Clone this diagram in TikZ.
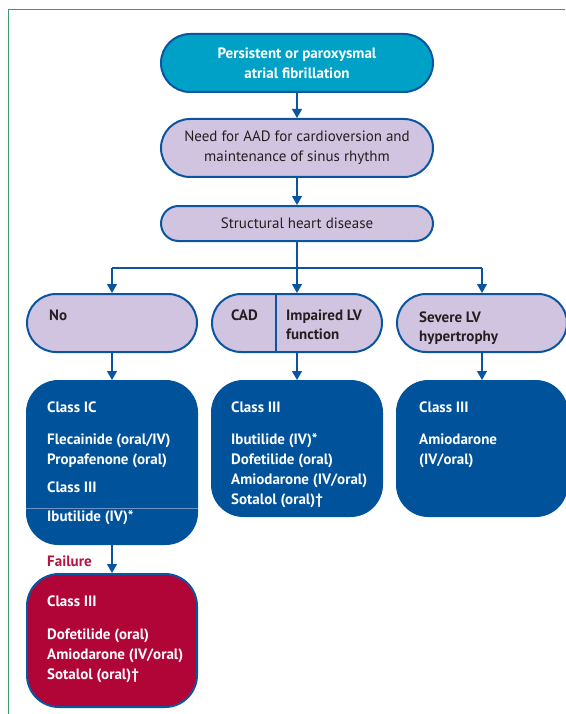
\documentclass[tikz,border=0pt]{standalone}
\usepackage{fontspec}
\setmainfont{PT Sans}
\usetikzlibrary{arrows.meta}
\definecolor{bdr}{HTML}{0A55A0}
\definecolor{cyanf}{HTML}{00A1C6}
\definecolor{lav}{HTML}{D1C4E0}
\definecolor{dblue}{HTML}{00529B}
\definecolor{redf}{HTML}{B10538}
\definecolor{failc}{HTML}{B5123E}
\definecolor{txt}{HTML}{231F20}
\definecolor{frame}{HTML}{3A9A6A}
\definecolor{thinl}{HTML}{6F93C4}
\tikzset{
  pill/.style={draw=bdr, line width=2pt, inner sep=0pt},
  lavbox/.style={pill, fill=lav, minimum width=170pt, minimum height=58pt, rounded corners=29pt},
  topbox/.style={pill, minimum width=272pt},
  bluebox/.style={draw=dblue, fill=dblue, line width=1pt, inner sep=0pt, minimum width=171pt, rounded corners=32pt},
  arr/.style={draw=bdr, line width=1.3pt, -{Triangle[width=10pt,length=9pt]}},
  conn/.style={draw=bdr, line width=1.3pt},
  wtxt/.style={text=white, font=\fontsize{15}{20}\selectfont\bfseries, inner sep=0pt, anchor=base west},
  dtxt/.style={text=txt, font=\fontsize{15}{20}\selectfont\bfseries, inner sep=0pt, anchor=base west},
}
\begin{document}
\begin{tikzpicture}[x=1pt,y=-1pt]
\useasboundingbox (0,0) rectangle (565,714);
% frame
\draw[frame, line width=1pt] (8.5,714) -- (8.5,9.5) -- (565,9.5);
% top boxes
\node[topbox, fill=cyanf, minimum height=58pt, rounded corners=29pt, text=white, align=center,
      font=\fontsize{15}{20}\selectfont\bfseries] (top) at (297,63) {Persistent or paroxysmal\\atrial fibrillation};
\node[topbox, fill=lav, minimum height=58pt, rounded corners=29pt, text=txt, align=center,
      font=\fontsize{15}{20}\selectfont] (need) at (297,148) {Need for AAD for cardioversion and\\maintenance of sinus rhythm};
\node[topbox, fill=lav, minimum height=35pt, rounded corners=17.5pt, text=txt,
      font=\fontsize{15}{20}\selectfont] (shd) at (297,223.5) {Structural heart disease};
% second row
\node[lavbox] (no) at (112,323) {};
\node[lavbox] (mid) at (297,323) {};
\node[lavbox] (sev) at (482,323) {};
\coordinate (dv) at (276,323);
\draw[conn] (dv |- mid.north) -- (dv |- mid.south);
\node[dtxt] (tno) at (49,320) {No};
\node[dtxt] (tcad) at (231,320) {CAD};
\node[dtxt] (timp1) at (286,320) {Impaired LV};
\node[dtxt] (timp2) at (286,339) {function};
\node[dtxt] (tsev1) at (419,322) {Severe LV};
\node[dtxt] (tsev2) at (419,341) {hypertrophy};
% blue boxes
\node[bluebox, minimum height=164pt] (c1) at (112,462.5) {};
\node[bluebox, minimum height=136pt] (c2) at (297,448.5) {};
\node[bluebox, minimum height=136pt] (c3) at (482,448.5) {};
\coordinate (sep) at (112,508);
\draw[thinl, line width=0.8pt] (sep -| c1.west) -- (sep -| c1.east);
\node[wtxt] (a1) at (47,412) {Class IC};
\node[wtxt] (a2) at (47,444) {Flecainide (oral/IV)};
\node[wtxt] (a3) at (47,464) {Propafenone (oral)};
\node[wtxt] (a4) at (47,492) {Class III};
\node[wtxt] (a5) at (47,521) {Ibutilide (IV)*};
\node[wtxt] (b1) at (231,412) {Class III};
\node[wtxt] (b2) at (231,444) {Ibutilide (IV)*};
\node[wtxt] (b3) at (231,464) {Dofetilide (oral)};
\node[wtxt] (b4) at (231,484) {Amiodarone (IV/oral)};
\node[wtxt] (b5) at (231,504) {Sotalol (oral)†};
\node[wtxt] (d1) at (419,412) {Class III};
\node[wtxt] (d2) at (419,444) {Amiodarone};
\node[wtxt] (d3) at (419,464) {(IV/oral)};
% red box
\node[pill, fill=redf, minimum width=170pt, minimum height=133pt, rounded corners=32pt] (red) at (112,640.5) {};
\node[wtxt] (e1) at (47,606) {Class III};
\node[wtxt] (e2) at (47,639) {Dofetilide (oral)};
\node[wtxt] (e3) at (47,659) {Amiodarone (IV/oral)};
\node[wtxt] (e4) at (47,679) {Sotalol (oral)†};
\node[text=failc, font=\fontsize{15}{20}\selectfont\bfseries, inner sep=0pt, anchor=base west] (fail) at (47,566) {Failure};
% connectors
\coordinate (j) at (297,268);
\coordinate (jl) at (112,268);
\coordinate (jr) at (482,268);
\draw[arr] (top) -- (need);
\draw[arr] (need) -- (shd);
\draw[conn] (shd.south) -- (j);
\draw[conn] (jl) -- (jr);
\draw[arr] (jl) -- (no);
\draw[arr] (j) -- (mid);
\draw[arr] (jr) -- (sev);
\draw[arr] (no) -- (c1);
\draw[arr] (mid) -- (c2);
\draw[arr] (sev) -- (c3);
\draw[arr] (c1) -- (red);
\end{tikzpicture}
\end{document}
